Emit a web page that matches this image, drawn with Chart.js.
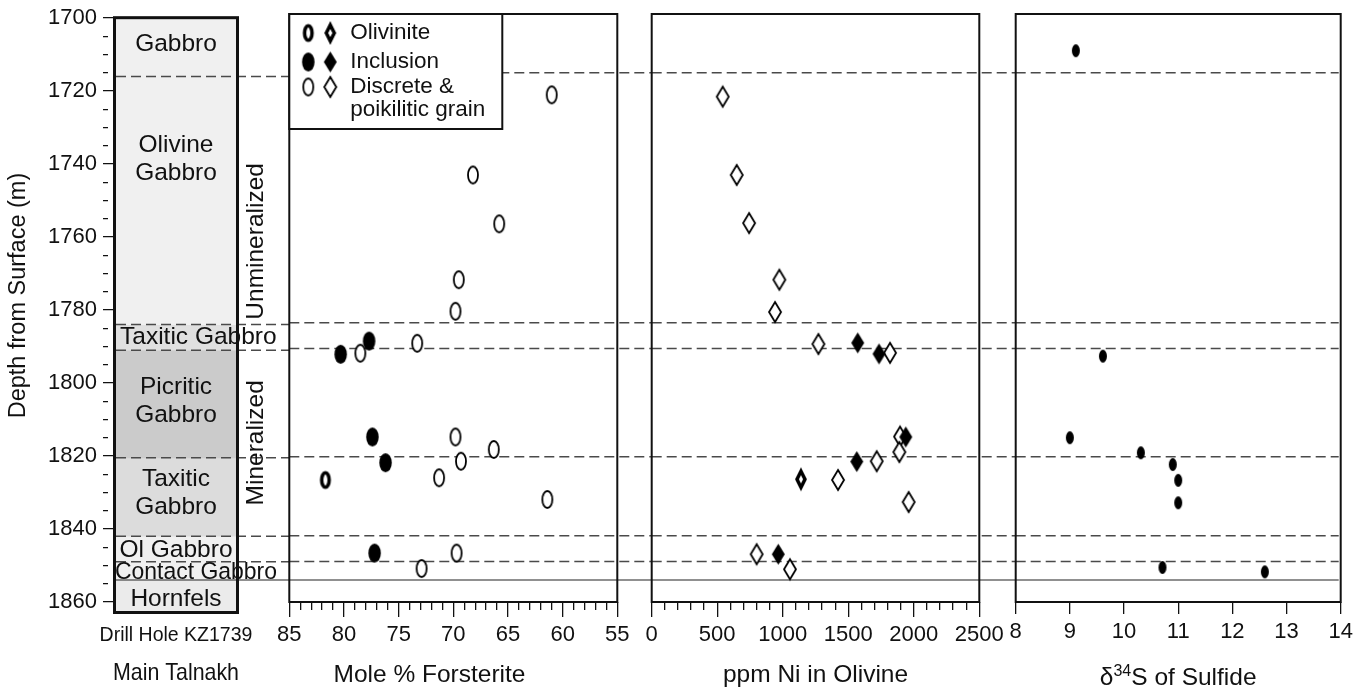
<!DOCTYPE html>
<html>
<head>
<meta charset="utf-8">
<title>Main Talnakh, Drill Hole KZ1739</title>
<script src="https://cdn.jsdelivr.net/npm/chart.js@4.4.1/dist/chart.umd.min.js"></script>
<style>
  html, body { margin: 0; padding: 0; background: #fff; }
  #fig { position: relative; width: 1365px; height: 690px; overflow: hidden; }
  #fig canvas { position: absolute; top: 0; }
</style>
</head>
<body>
<div id="fig">
  <canvas id="column" width="289" height="690" style="left:0px"></canvas>
  <canvas id="forsterite" width="389" height="690" style="left:262px"></canvas>
  <canvas id="nickel" width="386" height="690" style="left:630px"></canvas>
  <canvas id="sulfur" width="370" height="690" style="left:995px"></canvas>
</div>
<script>
const FONT = "'Liberation Sans', Arial, Helvetica, sans-serif";
Chart.defaults.font.family = FONT;
Chart.defaults.color = '#111';

// drill hole log
const holeLabel = 'Drill Hole KZ1739';
const layerNames = ['Gabbro', 'Olivine\nGabbro', 'Taxitic Gabbro', 'Picritic\nGabbro', 'Taxitic\nGabbro', 'Ol Gabbro', 'Contact Gabbro', 'Hornfels'];
const layerTops = [1699.5, 1716, 1784, 1791, 1820.5, 1842, 1849, 1854];
const layerBottoms = [1716, 1784, 1791, 1820.5, 1842, 1849, 1854, 1863.3];
const contactDepth = 1854;
const dashedDepths = layerTops.slice(1, -1);

// mole % forsterite
const foOlivDepth = [1826.8];
const foOlivinite = [81.7];
const foInclDepth = [1789.0, 1792.6, 1815.1, 1822.1, 1846.7];
const foInclusion = [77.7, 80.3, 77.4, 76.2, 77.2];
const foDiscDepth = [1722.0, 1743.8, 1757.1, 1772.3, 1780.9, 1789.6, 1792.3, 1815.1, 1818.5, 1821.7, 1826.2, 1832.1, 1846.7, 1850.9];
const foDiscrete = [61.0, 68.2, 65.8, 69.5, 69.8, 73.3, 78.5, 69.8, 66.3, 69.3, 71.3, 61.4, 69.7, 72.9];

// ppm Ni in olivine
const niOlivDepth = [1826.6];
const niOlivinite = [1139];
const niInclDepth = [1789.5, 1792.5, 1815.1, 1821.8, 1847.0];
const niInclusion = [1572, 1735, 1939, 1565, 966];
const niDiscDepth = [1722.5, 1743.8, 1756.9, 1772.3, 1781.1, 1789.8, 1792.2, 1815.0, 1819.2, 1821.7, 1826.8, 1832.8, 1847.0, 1851.1];
const niDiscrete = [542, 649, 743, 974, 941, 1272, 1819, 1895, 1890, 1717, 1422, 1961, 801, 1055];

// delta 34S of sulfide
const sDepth = [1710.0, 1793.1, 1815.3, 1819.4, 1822.6, 1826.9, 1833.0, 1850.6, 1851.8];
const sDelta = [9.11, 9.61, 9.0, 10.31, 10.90, 11.0, 11.0, 10.71, 12.6];

// styles
const layerFill = ['#f0f0f0', '#f0f0f0', '#e0e0e0', '#cbcbcb', '#dcdcdc', '#f0f0f0', '#f0f0f0', '#ebebeb'];

function marker(shape, w, h, mode, lw) {
  const c = document.createElement('canvas');
  const pad = Math.ceil(lw || 1) + 3;
  c.width = Math.ceil(w + pad * 2);
  c.height = Math.ceil(h + pad * 2);
  const g = c.getContext('2d');
  const cx = c.width / 2, cy = c.height / 2;
  g.beginPath();
  if (shape === 'oval') {
    g.ellipse(cx, cy, w / 2, h / 2, 0, 0, Math.PI * 2);
  } else {
    g.moveTo(cx, cy - h / 2); g.lineTo(cx + w / 2, cy);
    g.lineTo(cx, cy + h / 2); g.lineTo(cx - w / 2, cy); g.closePath();
  }
  if (mode === 'fill') {
    g.fillStyle = '#000'; g.fill();
  } else {
    g.fillStyle = '#fff'; g.fill();
    g.lineWidth = lw; g.strokeStyle = '#000'; g.stroke();
  }
  return c;
}

const ovalOpen = marker('oval', 10, 17, 'open', 1.8);
const ovalFill = marker('oval', 12.5, 19, 'fill');
const ovalOlv = marker('oval', 7.5, 14.5, 'open', 3.5);
const diaOpen = marker('diamond', 12, 20, 'open', 1.8);
const diaFill = marker('diamond', 13, 21, 'fill');
const diaOlv = marker('diamond', 8, 16, 'open', 3.5);
const sDot = marker('oval', 8, 13, 'fill');

const pts = (xs, ds) => xs.map((v, i) => ({x: v, y: ds[i]}));

function horizons(hook, fromX, toX) {
  return {
    id: 'horizons',
    [hook](chart) {
      const {ctx, scales: {y}} = chart;
      const x0 = fromX(chart), x1 = toX(chart);
      ctx.save();
      ctx.strokeStyle = '#4a4a4a';
      ctx.lineWidth = 1.5;
      ctx.setLineDash([10, 5]);
      dashedDepths.forEach(d => {
        const py = y.getPixelForValue(d);
        ctx.beginPath(); ctx.moveTo(x0, py); ctx.lineTo(x1, py); ctx.stroke();
      });
      ctx.setLineDash([]);
      ctx.strokeStyle = '#222';
      ctx.lineWidth = 1.1;
      const py = y.getPixelForValue(contactDepth);
      ctx.beginPath(); ctx.moveTo(x0, py); ctx.lineTo(x1, py); ctx.stroke();
      ctx.restore();
    }
  };
}

function frame(lw, inset) {
  return {
    id: 'frame',
    afterDraw(chart) {
      const {ctx, chartArea: a} = chart;
      ctx.save();
      ctx.lineWidth = lw;
      ctx.strokeStyle = '#111';
      ctx.strokeRect(a.left + inset, a.top + inset, a.right - a.left - 2 * inset, a.bottom - a.top - 2 * inset);
      ctx.restore();
    }
  };
}

// text inside and beside the drill hole column
const columnText = {
  id: 'columnText',
  afterDatasetsDraw(chart) {
    const {ctx, chartArea: a, scales: {y}} = chart;
    const labelDepth = [1707.3, 1738.6, 1787.6, 1805.0, 1830.3, 1845.9, 1851.8, 1859.2];
    const leftInset = {2: 7, 6: 2};
    const cx = (a.left + a.right) / 2;
    ctx.save();
    ctx.fillStyle = '#111';
    ctx.font = '24.5px ' + FONT;
    ctx.textBaseline = 'middle';
    layerNames.forEach((name, i) => {
      const lines = name.split('\n');
      const yc = y.getPixelForValue(labelDepth[i]);
      const left = i in leftInset;
      ctx.textAlign = left ? 'left' : 'center';
      lines.forEach((ln, k) => {
        const ty = yc + (k - (lines.length - 1) / 2) * 28;
        if (left) ctx.fillText(ln, a.left + leftInset[i], ty, 162);
        else ctx.fillText(ln, cx, ty);
      });
    });
    [['Unmineralized', 1761.2], ['Mineralized', 1816.4]].forEach(([t, d]) => {
      ctx.save();
      ctx.translate(a.right + 17, y.getPixelForValue(d));
      ctx.rotate(-Math.PI / 2);
      ctx.textAlign = 'center';
      ctx.fillText(t, 0, 0);
      ctx.restore();
    });
    ctx.restore();
  }
};

new Chart(document.getElementById('column'), {
  type: 'bar',
  data: {
    labels: [holeLabel],
    datasets: layerNames.map((n, i) => ({
      label: n.replace('\n', ' '),
      data: [[layerTops[i], layerBottoms[i]]],
      backgroundColor: layerFill[i],
      borderWidth: 0,
      grouped: false,
      barPercentage: 1,
      categoryPercentage: 1
    }))
  },
  options: {
    responsive: false,
    animation: false,
    events: [],
    layout: {padding: {left: 0, right: 50, top: 12, bottom: 0}},
    plugins: {legend: {display: false}, tooltip: {enabled: false}},
    scales: {
      x: {
        grid: {display: false, drawTicks: false},
        border: {display: false},
        ticks: {font: {size: 19.5}, padding: 9.5},
        title: {display: true, text: 'Main Talnakh', font: {size: 24}, padding: {top: 0, bottom: 2}},
        afterFit: s => { s.height = 76; }
      },
      y: {
        min: 1699.5,
        max: 1863.3,
        reverse: true,
        grid: {
          drawOnChartArea: false,
          tickLength: 13,
          color: '#111',
          lineWidth: 1.3,
          tickBorderDash: c => (c.tick && c.tick.value % 20 === 0) ? [0, 3, 10, 50] : [0, 3, 5, 50]
        },
        border: {display: false},
        ticks: {
          stepSize: 5,
          includeBounds: false,
          autoSkip: false,
          padding: 3,
          font: {size: 22},
          callback: v => v % 20 === 0 ? String(v) : ''
        },
        title: {display: true, text: '      Depth from Surface (m)', font: {size: 23.5}, padding: {top: 4, bottom: 0}},
        afterFit: s => { s.width = 113; }
      }
    }
  },
  plugins: [
    horizons('afterDatasetsDraw', c => c.chartArea.left + 3, c => c.width),
    columnText,
    frame(3, 1.5)
  ]
});

function panelOptions(pad, xScale) {
  return {
    responsive: false,
    animation: false,
    events: [],
    layout: {padding: {left: pad[0], right: pad[1], top: 14, bottom: 0}},
    plugins: {legend: {display: false}, tooltip: {enabled: false}},
    scales: {
      x: Object.assign({
        type: 'linear',
        border: {display: false},
        afterFit: s => { s.height = 88; }
      }, xScale),
      y: {min: 1700, max: 1860, reverse: true, display: false}
    }
  };
}

function xAxis(min, max, step, major, tickLen, title, reverse) {
  return {
    min: min,
    max: max,
    reverse: reverse,
    grid: {
      drawOnChartArea: false,
      tickLength: tickLen,
      color: '#111',
      lineWidth: 1.3,
      tickBorderDash: c => (c.tick && Math.abs(c.tick.value % major) < 1e-6) ? [] : [8, 50]
    },
    ticks: {
      stepSize: step,
      autoSkip: false,
      maxRotation: 0,
      includeBounds: false,
      padding: 5,
      font: {size: 22},
      callback: v => Math.abs(v % major) < 1e-6 ? String(v) : ''
    },
    title: {display: !!title, text: title, font: {size: 24.5}, padding: {top: 0, bottom: 0}}
  };
}

const legendBox = {
  id: 'legendBox',
  afterDraw(chart) {
    const {ctx, chartArea: a} = chart;
    const x = a.left, y = a.top;
    const ds = chart.data.datasets;
    const diamonds = [diaOlv, diaFill, diaOpen];
    ctx.save();
    ctx.fillStyle = '#fff';
    ctx.fillRect(x, y, 213, 115);
    ctx.lineWidth = 2;
    ctx.strokeStyle = '#111';
    ctx.strokeRect(x, y, 213, 115);
    ctx.font = '22.5px ' + FONT;
    ctx.fillStyle = '#111';
    ctx.textBaseline = 'middle';
    ctx.textAlign = 'left';
    [19, 48, 73].forEach((ry, i) => {
      const o = ds[i].pointStyle, d = diamonds[i];
      ctx.drawImage(o, x + 19 - o.width / 2, y + ry - o.height / 2);
      ctx.drawImage(d, x + 41 - d.width / 2, y + ry - d.height / 2);
      const words = ds[i].label.split(' & ');
      if (words.length > 1) {
        ctx.fillText(words[0] + ' &', x + 61, y + ry);
        ctx.fillText(words[1], x + 61, y + ry + 23);
      } else {
        ctx.fillText(ds[i].label, x + 61, y + ry);
      }
    });
    ctx.restore();
  }
};

// axis title with a real superscript for the sulfur isotope panel
const deltaTitle = {
  id: 'deltaTitle',
  afterDraw(chart) {
    const {ctx, chartArea: a} = chart;
    const parts = [['δ', 24.5, 0], ['34', 16, -9], ['S of Sulfide', 24.5, 0]];
    ctx.save();
    ctx.fillStyle = '#111';
    ctx.textBaseline = 'alphabetic';
    ctx.textAlign = 'left';
    let total = 0;
    parts.forEach(p => { ctx.font = p[1] + 'px ' + FONT; total += ctx.measureText(p[0]).width; });
    let x = (a.left + a.right) / 2 - total / 2;
    const base = 685;
    parts.forEach(p => {
      ctx.font = p[1] + 'px ' + FONT;
      ctx.fillText(p[0], x, base + p[2]);
      x += ctx.measureText(p[0]).width;
    });
    ctx.restore();
  }
};

new Chart(document.getElementById('forsterite'), {
  type: 'scatter',
  data: {
    datasets: [
      {label: 'Olivinite', data: pts(foOlivinite, foOlivDepth), pointStyle: ovalOlv, pointRadius: 6},
      {label: 'Inclusion', data: pts(foInclusion, foInclDepth), pointStyle: ovalFill, pointRadius: 6},
      {label: 'Discrete & poikilitic grain', data: pts(foDiscrete, foDiscDepth), pointStyle: ovalOpen, pointRadius: 6}
    ]
  },
  options: panelOptions([27.3, 33.7], xAxis(55, 85, 1, 5, 15, 'Mole % Forsterite       ', true)),
  plugins: [
    horizons('beforeDatasetsDraw', c => c.chartArea.left, c => c.width),
    frame(2, 0),
    legendBox
  ]
});

new Chart(document.getElementById('nickel'), {
  type: 'scatter',
  data: {
    datasets: [
      {label: 'Olivinite', data: pts(niOlivinite, niOlivDepth), pointStyle: diaOlv, pointRadius: 6},
      {label: 'Inclusion', data: pts(niInclusion, niInclDepth), pointStyle: diaFill, pointRadius: 6},
      {label: 'Discrete & poikilitic grain', data: pts(niDiscrete, niDiscDepth), pointStyle: diaOpen, pointRadius: 6}
    ]
  },
  options: panelOptions([21.7, 36.7], xAxis(0, 2500, 100, 500, 15, 'ppm Ni in Olivine', false)),
  plugins: [
    horizons('beforeDatasetsDraw', c => c.chartArea.left, c => c.width),
    frame(2, 0)
  ]
});

new Chart(document.getElementById('sulfur'), {
  type: 'scatter',
  data: {
    datasets: [
      {label: 'Sulfide', data: pts(sDelta, sDepth), pointStyle: sDot, pointRadius: 5}
    ]
  },
  options: panelOptions([20.7, 24.3], xAxis(8, 14, 1, 1, 12, '', false)),
  plugins: [
    horizons('beforeDatasetsDraw', c => c.chartArea.left, c => c.chartArea.right - 2),
    frame(2, 0),
    deltaTitle
  ]
});
</script>
</body>
</html>
